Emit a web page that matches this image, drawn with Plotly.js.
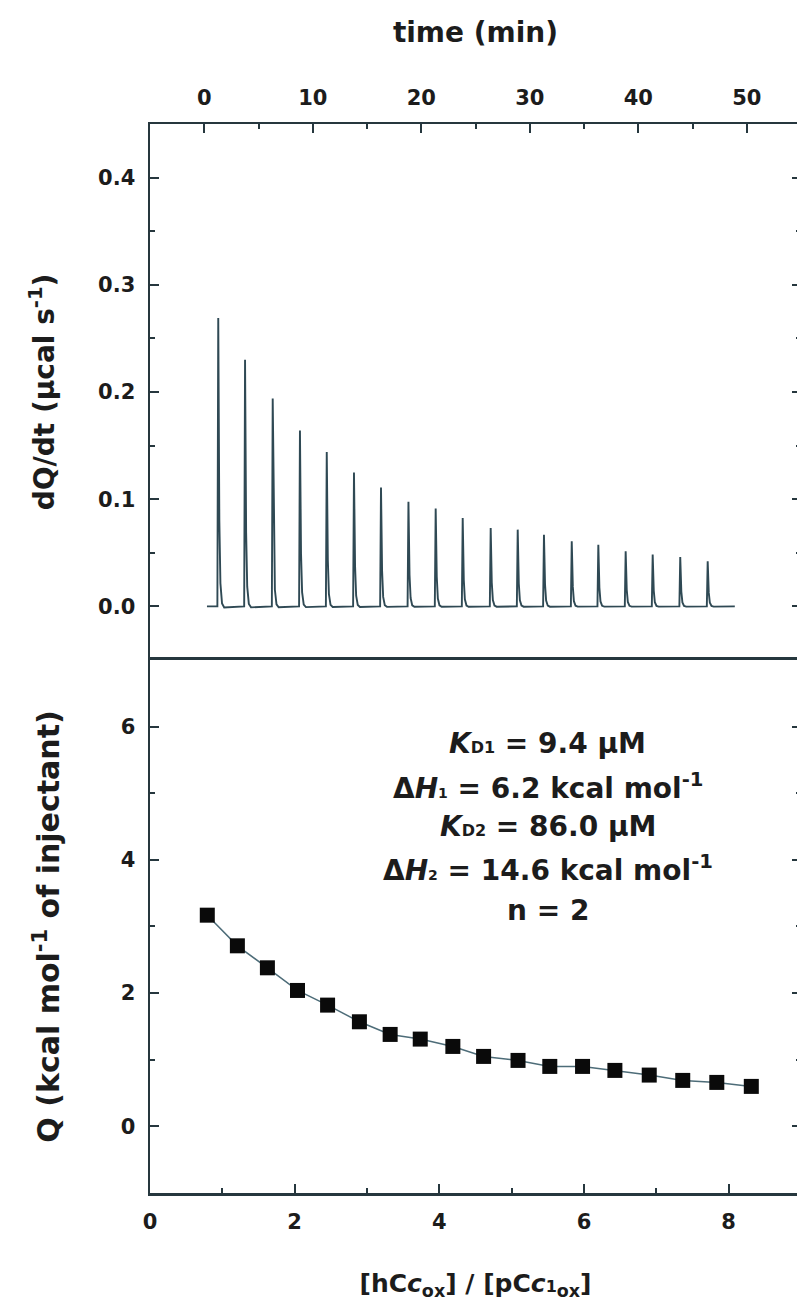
<!DOCTYPE html>
<html>
<head>
<meta charset="utf-8">
<script src="https://cdn.plot.ly/plotly-3.0.1.min.js"></script>
<style>
  html, body { margin: 0; padding: 0; background: #ffffff; overflow: hidden; }
  #chart { width: 801px; height: 1316px; }
</style>
</head>
<body>
<div id="chart"></div>
<script>
// ---- Data ----
// Upper panel: raw ITC thermogram (injection peaks)
const injectionTimes = [1.29, 3.76, 6.31, 8.82, 11.29, 13.80, 16.29, 18.82, 21.33, 23.82,
                        26.40, 28.89, 31.31, 33.87, 36.32, 38.84, 41.33, 43.87, 46.40];
const peakHeights = [0.269, 0.230, 0.194, 0.164, 0.144, 0.125, 0.111, 0.0975, 0.0912, 0.0825,
                     0.0732, 0.0716, 0.0669, 0.0607, 0.0576, 0.0514, 0.0483, 0.0461, 0.0420];
const baselineStart = 0.25;
const baselineEnd = 48.9;
// shape of one injection spike (time offset in min, fraction of peak height)
const spikeOffsets = [-0.08, 0.0, 0.10, 0.20, 0.35, 0.55];
const spikeFractions = [0.0, 1.0, 0.30, 0.08, 0.01, -0.004];

// Lower panel: integrated heats
const molarRatio = [0.792, 1.208, 1.623, 2.039, 2.455, 2.895, 3.320, 3.736, 4.187, 4.612,
                    5.088, 5.527, 5.980, 6.427, 6.902, 7.365, 7.836, 8.313];
const heatQ = [3.17, 2.71, 2.38, 2.04, 1.82, 1.57, 1.38, 1.31, 1.20, 1.05,
               0.99, 0.90, 0.90, 0.84, 0.77, 0.69, 0.66, 0.60];

const topTickVals = [0, 10, 20, 30, 40, 50];
const fitParams = [
  "<i>K</i><span style='font-size:16px'>D1</span> = 9.4 μM",
  "Δ<i>H</i><span style='font-size:14px'>1</span> = 6.2 kcal mol<sup>-1</sup>",
  "<i>K</i><span style='font-size:16px'>D2</span> = 86.0 μM",
  "Δ<i>H</i><span style='font-size:14px'>2</span> = 14.6 kcal mol<sup>-1</sup>",
  "n = 2"
];

// ---- Build thermogram polyline from peak list ----
const tx = [baselineStart], ty = [0];
injectionTimes.forEach((t, i) => {
  spikeOffsets.forEach((dt, k) => {
    tx.push(t + dt);
    ty.push(peakHeights[i] * spikeFractions[k]);
  });
});
tx.push(baselineEnd); ty.push(0);

const FONT = 'DejaVu Sans, Liberation Sans, Arial, sans-serif';
const frameColor = '#26373e';
const txt = '#1c1c1c';

const thermo = {
  x: tx, y: ty, xaxis: 'x2', yaxis: 'y2',
  type: 'scatter', mode: 'lines',
  line: { color: '#2f4954', width: 1.9 },
  hoverinfo: 'skip', showlegend: false
};
const heats = {
  x: molarRatio, y: heatQ, xaxis: 'x', yaxis: 'y',
  type: 'scatter', mode: 'lines+markers',
  line: { color: '#4d6c78', width: 1.5 },
  marker: { symbol: 'square', size: 15, color: '#0a0a0a' },
  showlegend: false
};

const tickFont = { family: FONT, size: 21, color: txt, weight: 700 };
const titleFont = { family: FONT, size: 28, color: txt, weight: 700 };

const common = {
  showline: true, linecolor: frameColor, linewidth: 2.5,
  ticks: 'inside', ticklen: 9, tickwidth: 2, tickcolor: frameColor,
  showgrid: false, zeroline: false, tickfont: tickFont, ticklabelstandoff: 8
};

const layout = {
  width: 801, height: 1316,
  margin: { l: 150, r: 0, t: 124, b: 123 },
  paper_bgcolor: '#ffffff', plot_bgcolor: '#ffffff',
  font: { family: FONT, color: txt },
  xaxis: Object.assign({}, common, {
    domain: [0, 1], anchor: 'y', range: [0, 9],
    tickvals: [0, 2, 4, 6, 8], mirror: true,
    minor: { dtick: 1, ticks: 'inside', ticklen: 5, tickwidth: 2, tickcolor: frameColor },
    title: { text: "[hC<i>c</i><sub>ox</sub>] / [pC<i>c</i><span style='font-size:16px'>1</span><sub>ox</sub>]",
             font: Object.assign({}, titleFont, { size: 25 }), standoff: 42 }
  }),
  yaxis: Object.assign({}, common, {
    domain: [0, 0.4986], anchor: 'x', range: [-1, 7],
    tickvals: [0, 2, 4, 6], mirror: 'ticks',
    minor: { dtick: 1, ticks: 'inside', ticklen: 5, tickwidth: 2, tickcolor: frameColor },
    title: { text: 'Q (kcal mol<sup>-1</sup> of injectant)', font: Object.assign({}, titleFont, { size: 30 }), standoff: 52 }
  }),
  xaxis2: Object.assign({}, common, {
    domain: [0, 1], anchor: 'y2', side: 'top', range: [-5, 55],
    tickvals: topTickVals, mirror: false,
    minor: { dtick: 5, ticks: 'inside', ticklen: 5, tickwidth: 2, tickcolor: frameColor },
    title: { text: 'time (min)', font: titleFont, standoff: 36 }
  }),
  yaxis2: Object.assign({}, common, {
    domain: [0.4986, 1], anchor: 'x2', range: [-0.05, 0.45],
    tickvals: [0, 0.1, 0.2, 0.3, 0.4], tickformat: '.1f', mirror: 'ticks',
    minor: { dtick: 0.05, ticks: 'inside', ticklen: 5, tickwidth: 2, tickcolor: frameColor },
    title: { text: 'dQ/dt (μcal s<sup>-1</sup>)', font: titleFont, standoff: 36 }
  }),
  annotations: fitParams.map((t, i) => ({
    text: t, xref: 'x', yref: 'y', x: 5.5, y: [5.75, 5.10, 4.50, 3.87, 3.24][i],
    xanchor: 'center', yanchor: 'middle', showarrow: false,
    font: { family: FONT, size: 28, color: txt, weight: 700 }
  }))
};

Plotly.newPlot('chart', [thermo, heats], layout, { displayModeBar: false, staticPlot: true });
</script>
</body>
</html>
